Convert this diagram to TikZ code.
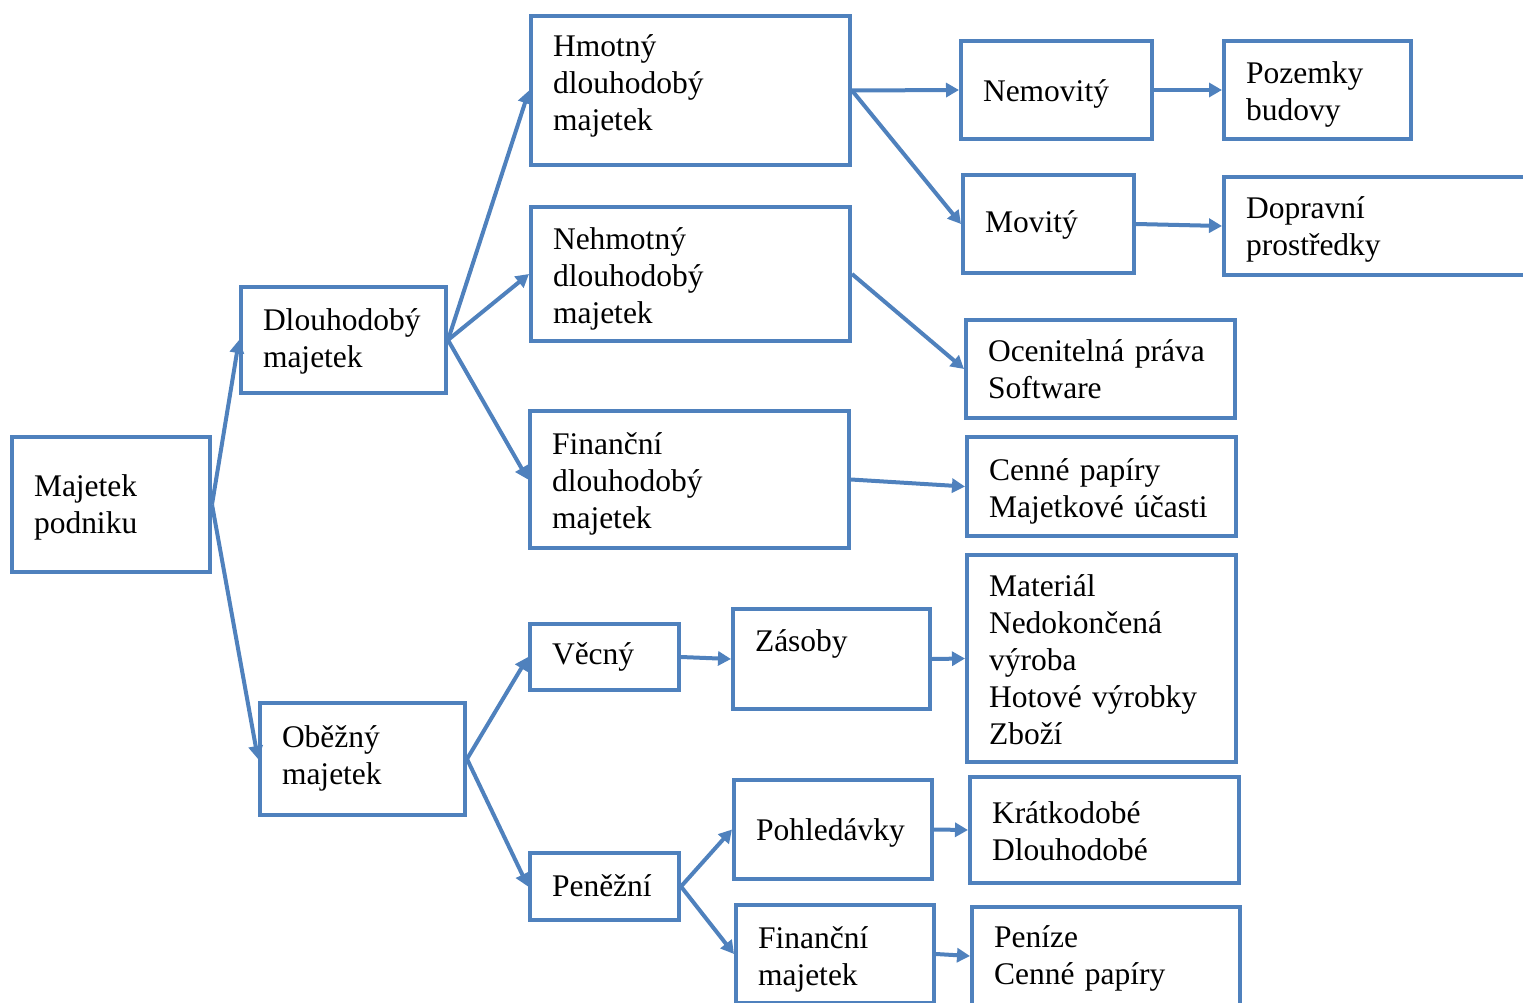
\documentclass[tikz,border=0pt]{standalone}
\usepackage{fontspec}
\setmainfont{Liberation Serif}
\usetikzlibrary{arrows.meta}
\definecolor{bl}{RGB}{79,129,189}
\begin{document}
\begin{tikzpicture}[x=1pt,y=-1pt,
  box/.style={draw=bl, line width=4pt, rectangle, align=left, inner xsep=22pt, inner ysep=0pt,
    font=\fontsize{31.5}{37}\selectfont, anchor=center},
  tb/.style 2 args={execute at begin node={\rule{0pt}{#1pt}}, execute at end node={\rule[-#2pt]{0pt}{0pt}}},
  arr/.style={draw=bl, line width=4pt, -{Triangle[length=13pt,width=14pt]}}]
\useasboundingbox (0,0) rectangle (1523,1003);
\clip (0,0) rectangle (1523,1003);
% column 1
\node[box, tb={29.4}{8}, minimum width=198pt, text width=154pt, minimum height=135pt] (mp) at (111,504.5) {Majetek\\podniku};
% column 2
\node[box, tb={25}{8}, minimum width=205pt, text width=161pt, minimum height=106pt] (dm) at (343.5,340) {Dlouhodobý\\majetek};
\node[box, tb={24.4}{10}, minimum width=205pt, text width=161pt, minimum height=112pt] (om) at (362.5,759) {Oběžný\\majetek};
% column 3
\node[box, tb={24.4}{18}, minimum width=319pt, text width=275pt, minimum height=149pt] (hdm) at (690.5,90.5) {Hmotný\\dlouhodobý\\majetek};
\node[box, tb={33}{8}, minimum width=319pt, text width=275pt, minimum height=134pt] (ndm) at (690.5,274) {Nehmotný\\dlouhodobý\\majetek};
\node[box, tb={32}{8}, minimum width=319pt, text width=275pt, minimum height=137pt] (fdm) at (689.5,479.5) {Finanční\\dlouhodobý\\majetek};
\node[box, tb={24.4}{10}, minimum width=149pt, text width=105pt, minimum height=66pt] (vec) at (604.5,657) {Věcný};
\node[box, tb={27.4}{8}, minimum width=149pt, text width=105pt, minimum height=67pt] (pen) at (604.5,886.5) {Peněžní};
% column 4
\node[box, tb={25}{39.6}, minimum width=197pt, text width=153pt, minimum height=100pt] (zas) at (831.5,659) {Zásoby};
\node[box, tb={30}{8}, minimum width=198pt, text width=154pt, minimum height=99pt] (poh) at (833,829.5) {Pohledávky};
\node[box, tb={33.6}{8}, minimum width=198pt, text width=154pt, minimum height=98pt] (fm) at (835,954) {Finanční\\majetek};
% column 5
\node[box, tb={31.4}{8}, minimum width=191pt, text width=147pt, minimum height=98pt] (nem) at (1056.5,90) {Nemovitý};
\node[box, tb={26}{8}, minimum width=171pt, text width=127pt, minimum height=98pt] (mov) at (1048.5,224) {Movitý};
\node[box, tb={30.4}{8}, minimum width=269pt, text width=225pt, minimum height=98pt] (oce) at (1100.5,369) {Ocenitelná práva\\Software};
\node[box, tb={32}{8}, minimum width=269pt, text width=225pt, minimum height=99pt] (cen) at (1101.5,486.5) {Cenné papíry\\Majetkové účasti};
\node[box, tb={32.4}{8}, minimum width=269pt, text width=225pt, minimum height=207pt] (mat) at (1101.5,658.5) {Materiál\\Nedokončená\\výroba\\Hotové výrobky\\Zboží};
\node[box, tb={31.6}{8}, minimum width=269pt, text width=225pt, minimum height=106pt] (kra) at (1104.5,830) {Krátkodobé\\Dlouhodobé};
\node[box, tb={27.6}{8}, minimum width=268pt, text width=224pt, minimum height=98pt] (pz) at (1106,956) {Peníze\\Cenné papíry};
% column 6
\node[box, tb={31.6}{8}, minimum width=187pt, text width=143pt, minimum height=98pt] (poz) at (1317.5,90) {Pozemky\\budovy};
\node[box, tb={29.6}{8}, minimum width=336pt, text width=292pt, minimum height=98pt] (dop) at (1392,226) {Dopravní\\prostředky};
% connectors
\draw[arr] (mp.east) -- (dm.west);
\draw[arr] (mp.east) -- (om.west);
\draw[arr] (dm.east) -- (hdm.west);
\draw[arr] (dm.east) -- (ndm.west);
\draw[arr] (dm.east) -- (fdm.west);
\draw[arr] (hdm.east) -- (nem.west);
\draw[arr] (hdm.east) -- (mov.west);
\draw[arr] (nem.east) -- (poz.west);
\draw[arr] (mov.east) -- (dop.west);
\draw[arr] (ndm.east) -- (oce.west);
\draw[arr] (fdm.east) -- (cen.west);
\draw[arr] (om.east) -- (vec.west);
\draw[arr] (om.east) -- (pen.west);
\draw[arr] (vec.east) -- (zas.west);
\draw[arr] (zas.east) -- (mat.west);
\draw[arr] (pen.east) -- (poh.west);
\draw[arr] (pen.east) -- (fm.west);
\draw[arr] (poh.east) -- (kra.west);
\draw[arr] (fm.east) -- (pz.west);
\end{tikzpicture}
\end{document}
